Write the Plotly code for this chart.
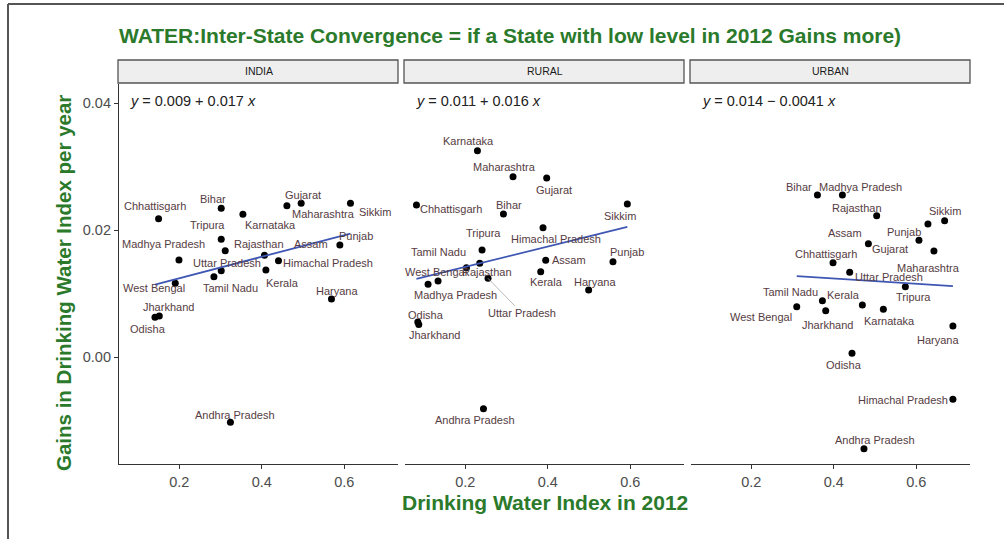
import plotly.graph_objects as go

# ---- data ----
states = ["Andhra Pradesh", "Assam", "Bihar", "Chhattisgarh", "Gujarat", "Haryana",
          "Himachal Pradesh", "Jharkhand", "Karnataka", "Kerala", "Madhya Pradesh",
          "Maharashtra", "Odisha", "Punjab", "Rajasthan", "Sikkim", "Tamil Nadu",
          "Tripura", "Uttar Pradesh", "West Bengal"]

panels = ["INDIA", "RURAL", "URBAN"]

india_x = [0.324, 0.4065, 0.3017, 0.1499, 0.4954, 0.5688, 0.4404, 0.1516, 0.3542, 0.4099,
           0.1993, 0.4608, 0.1412, 0.5891, 0.3114, 0.6148, 0.284, 0.3017, 0.3017, 0.1903]
india_y = [-0.01028, 0.01602, 0.02342, 0.02178, 0.0242, 0.00913, 0.01517, 0.00646, 0.02247, 0.0137,
           0.01528, 0.02383, 0.00625, 0.01764, 0.01674, 0.0242, 0.01265, 0.01854, 0.01359, 0.01161]

rural_x = [0.2441, 0.3949, 0.2925, 0.0818, 0.3973, 0.499, 0.3884, 0.0874, 0.2295, 0.3828,
           0.1341, 0.3157, 0.085, 0.5579, 0.2351, 0.5927, 0.2029, 0.2407, 0.2552, 0.1099]
rural_y = [-0.00814, 0.01523, 0.02252, 0.02394, 0.02819, 0.01055, 0.02036, 0.00512, 0.03249, 0.01343,
           0.01197, 0.02839, 0.00551, 0.01501, 0.01476, 0.02409, 0.01406, 0.01685, 0.01239, 0.01145]

urban_x = [0.4731, 0.4838, 0.3603, 0.3981, 0.6063, 0.6886, 0.6886, 0.3804, 0.5201, 0.4692,
           0.4208, 0.6426, 0.4441, 0.6281, 0.5039, 0.6685, 0.3724, 0.5734, 0.4385, 0.3102]
urban_y = [-0.01444, 0.01784, 0.02551, 0.01485, 0.01838, 0.00488, -0.00666, 0.00729, 0.00751, 0.00819,
           0.02551, 0.01669, 0.00058, 0.02094, 0.02225, 0.02146, 0.00887, 0.01107, 0.01334, 0.00792]

intercepts = [0.009, 0.011, 0.014]
slopes = [0.017, 0.016, -0.0041]
equations = ["<i>y</i> = 0.009 + 0.017 <i>x</i>",
             "<i>y</i> = 0.011 + 0.016 <i>x</i>",
             "<i>y</i> = 0.014 \u2212 0.0041 <i>x</i>"]

xticks = [0.2, 0.4, 0.6]
xticktext = ["0.2", "0.4", "0.6"]
yticks = [0.0, 0.02, 0.04]
yticktext = ["0.00", "0.02", "0.04"]

# label placement (pixel offsets from the point, right / down)
label_shift = {
    "INDIA": {"Andhra Pradesh": (5, -7), "Assam": (47, -11), "Bihar": (-8, -9),
              "Chhattisgarh": (-4, -13), "Gujarat": (2, -8), "Haryana": (6, -8),
              "Himachal Pradesh": (50, 2), "Jharkhand": (9, -9), "Karnataka": (28, 11),
              "Kerala": (17, 13), "Madhya Pradesh": (-15, -16), "Maharashtra": (37, 8),
              "Odisha": (-7, 12), "Punjab": (16, -9), "Rajasthan": (34, -7),
              "Sikkim": (25, 9), "Tamil Nadu": (17, 11), "Tripura": (-14, -14),
              "Uttar Pradesh": (6, -8), "West Bengal": (-21, 5)},
    "RURAL": {"Andhra Pradesh": (-8, 11), "Assam": (23, 0), "Bihar": (6, -9),
              "Chhattisgarh": (35, 4), "Gujarat": (7, 12), "Haryana": (6, -8),
              "Himachal Pradesh": (13, 11), "Jharkhand": (16, 10), "Karnataka": (-9, -10),
              "Kerala": (6, 10), "Madhya Pradesh": (17, 14), "Maharashtra": (-9, -10),
              "Odisha": (8, -7), "Punjab": (14, -10), "Rajasthan": (7, 9),
              "Sikkim": (-7, 12), "Tamil Nadu": (-28, -16), "Tripura": (1, -17),
              "Uttar Pradesh": (34, 35), "West Bengal": (8, -12)},
    "URBAN": {"Andhra Pradesh": (11, -9), "Assam": (-23, -11), "Bihar": (-18, -8),
              "Chhattisgarh": (-7, -9), "Gujarat": (-29, 9), "Haryana": (-15, 14),
              "Himachal Pradesh": (-50, 1), "Jharkhand": (2, 14), "Karnataka": (6, 12),
              "Kerala": (-19, -10), "Madhya Pradesh": (18, -8), "Maharashtra": (-5, 17),
              "Odisha": (-8, 12), "Punjab": (-24, 8), "Rajasthan": (-20, -8),
              "Sikkim": (0, -10), "Tamil Nadu": (-32, -9), "Tripura": (8, 10),
              "Uttar Pradesh": (39, 5), "West Bengal": (-36, 10)},
}
segment_labels = {("RURAL", "Uttar Pradesh")}

# ---- geometry (pixels of the page) ----
W, H = 1004, 539
L, R, T, B = 119, 970, 84, 464
def X(px):
    return (px - L) / (R - L)
def Y(py):
    return (B - py) / (B - T)

panel_px = [(119, 398), (405, 684), (691, 970)]
green = "#2b7a2b"
lab_col = "#553c42"
font_fam = "Liberation Sans, Arial, sans-serif"

xs = [india_x, rural_x, urban_x]
ys = [india_y, rural_y, urban_y]

fig = go.Figure()
annotations = []
shapes = []

for i, name in enumerate(panels):
    xa = "x" if i == 0 else "x%d" % (i + 1)
    fig.add_trace(go.Scatter(x=xs[i], y=ys[i], mode="markers", xaxis=xa, yaxis="y",
                             marker=dict(color="black", size=7), hoverinfo="skip",
                             showlegend=False))
    x0, x1 = min(xs[i]), max(xs[i])
    fig.add_trace(go.Scatter(x=[x0, x1],
                             y=[intercepts[i] + slopes[i] * x0, intercepts[i] + slopes[i] * x1],
                             mode="lines", xaxis=xa, yaxis="y",
                             line=dict(color="#3f57b3", width=1.8), hoverinfo="skip",
                             showlegend=False))
    for s, px_, py_ in zip(states, xs[i], ys[i]):
        dx, dy = label_shift[name][s]
        a = dict(x=px_, y=py_, xref=xa, yref="y", text=s,
                 font=dict(family=font_fam, size=11, color=lab_col))
        if (name, s) in segment_labels:
            a.update(showarrow=True, arrowhead=0, arrowwidth=0.8, arrowcolor="#aaaaaa",
                     ax=dx, ay=dy)
        else:
            a.update(showarrow=False, xshift=dx, yshift=-dy)
        annotations.append(a)

    p0, p1 = panel_px[i]
    # facet strip
    shapes.append(dict(type="rect", xref="paper", yref="paper",
                       x0=X(p0 - 1), x1=X(p1), y0=Y(83), y1=Y(60),
                       line=dict(color="#555555", width=1.3), fillcolor="#eeeeee"))
    annotations.append(dict(xref="paper", yref="paper", x=(X(p0) + X(p1)) / 2, y=Y(71.5),
                            xanchor="center", yanchor="middle", text=name, showarrow=False,
                            font=dict(family=font_fam, size=10.5, color="#1a1a1a")))
    annotations.append(dict(xref="paper", yref="paper", x=X(p0 + 9), y=Y(101),
                            xanchor="left", yanchor="middle", text=equations[i],
                            showarrow=False,
                            font=dict(family=font_fam, size=14.5, color="#222222")))

# outer frame (top and left edges)
shapes.append(dict(type="line", xref="paper", yref="paper", x0=X(8), x1=X(8),
                   y0=Y(H + 5), y1=Y(4), line=dict(color="#555555", width=2)))
shapes.append(dict(type="line", xref="paper", yref="paper", x0=X(8), x1=X(W + 5),
                   y0=Y(4), y1=Y(4), line=dict(color="#555555", width=2)))

annotations.append(dict(xref="paper", yref="paper", x=0.5, y=Y(502),
                        xanchor="center", yanchor="middle",
                        text="<b>Drinking Water Index in 2012</b>", showarrow=False,
                        font=dict(family=font_fam, size=21, color=green)))
annotations.append(dict(xref="paper", yref="paper", x=X(63), y=Y(283),
                        xanchor="center", yanchor="middle",
                        text="<b>Gains in Drinking Water Index per year</b>", textangle=-90,
                        showarrow=False, font=dict(family=font_fam, size=20.5, color=green)))

axis_common = dict(showgrid=False, zeroline=False, showline=True, linecolor="#333333",
                   linewidth=1.2, ticks="outside", ticklen=4, tickcolor="#333333",
                   tickfont=dict(family=font_fam, size=14.5, color="#4d4d4d"),
                   range=[0.054, 0.730], tickvals=xticks, ticktext=xticktext)

layout = dict(
    width=W, height=H, plot_bgcolor="white", paper_bgcolor="white",
    margin=dict(l=L, r=W - R, t=T, b=H - B),
    title=dict(text="<b>WATER:Inter-State Convergence = if a State with low level in 2012 Gains more)</b>",
               xref="paper", x=0, xanchor="left", yref="container", y=1 - 36 / H,
               yanchor="middle", font=dict(family=font_fam, size=21, color=green)),
    yaxis=dict(showgrid=False, zeroline=False, showline=True, linecolor="#333333",
               linewidth=1.2, ticks="outside", ticklen=4, tickcolor="#333333",
               tickfont=dict(family=font_fam, size=14.5, color="#4d4d4d"),
               range=[-0.01685, 0.043], tickvals=yticks, ticktext=yticktext,
               anchor="x", domain=[0, 1]),
    annotations=annotations, shapes=shapes, showlegend=False,
)
for i in range(3):
    key = "xaxis" if i == 0 else "xaxis%d" % (i + 1)
    p0, p1 = panel_px[i]
    layout[key] = dict(axis_common, domain=[X(p0), X(p1)], anchor="y")

fig.update_layout(**layout)
# page body has a default 8px margin; drop it so the figure sits at the window corner
fig.write_html("out.html", config={"displayModeBar": False},
               post_script="document.body.style.margin='0';")
